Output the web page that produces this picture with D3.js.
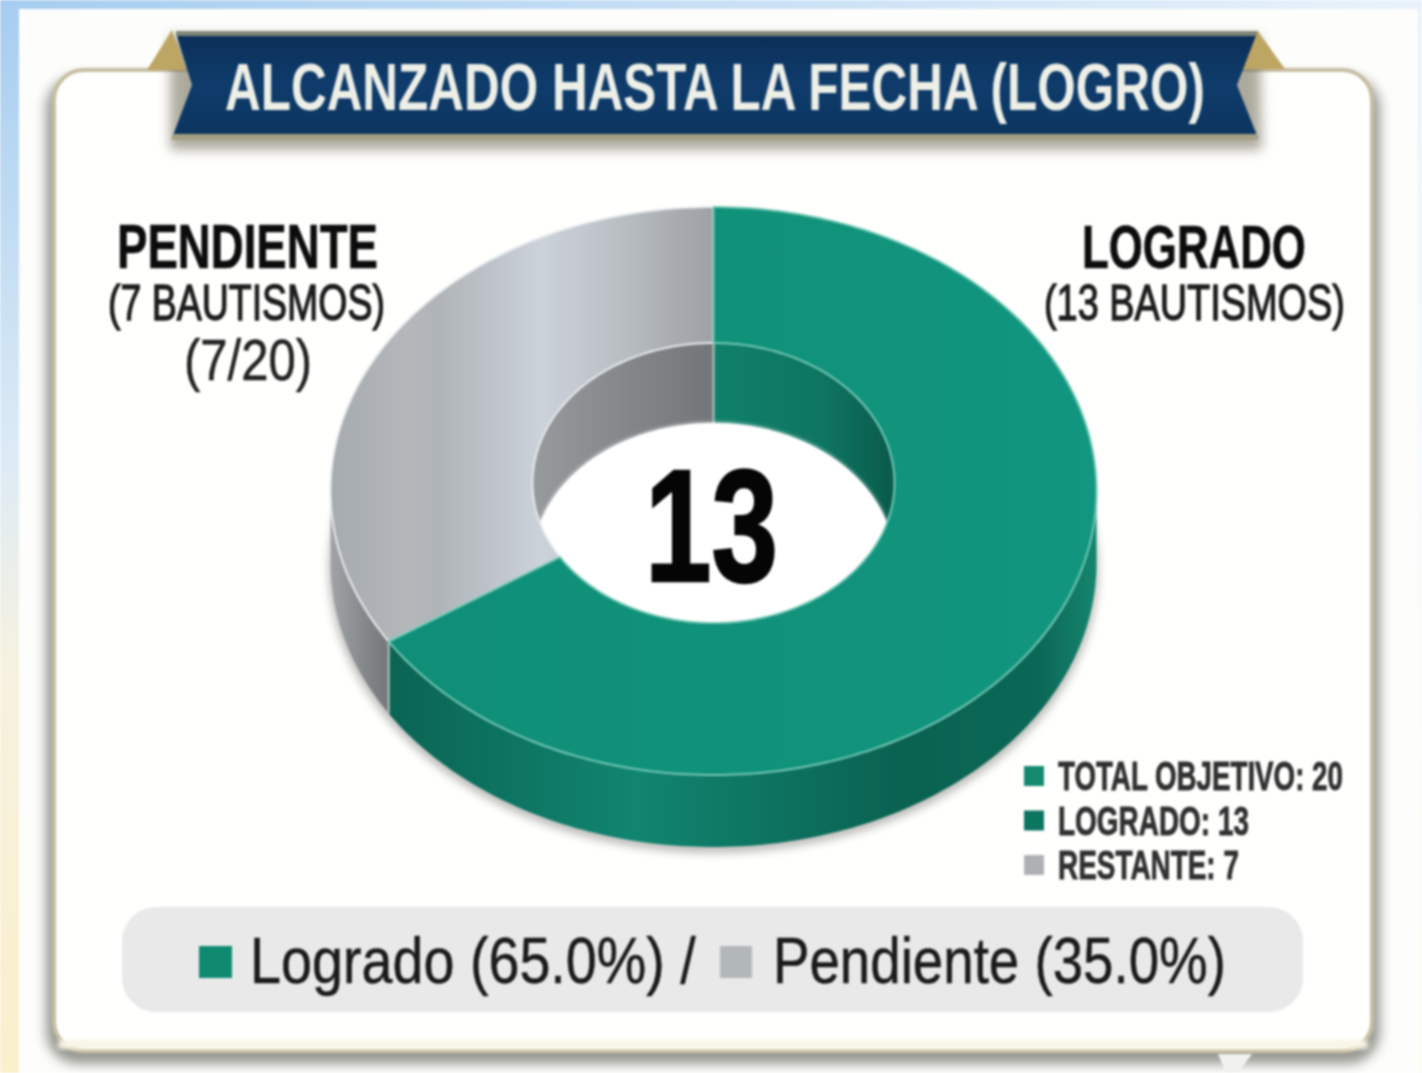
<!DOCTYPE html>
<html>
<head>
<meta charset="utf-8">
<script src="https://cdn.jsdelivr.net/npm/d3@7/dist/d3.min.js"></script>
<style>
  html, body { margin: 0; padding: 0; background: #fff; overflow: hidden; }
  svg { display: block; filter: blur(0.9px); }
  text { font-family: "Liberation Sans", Arial, sans-serif; }
</style>
</head>
<body>
<svg id="chart" width="1422" height="1073"></svg>
<script>
const titleText = 'ALCANZADO HASTA LA FECHA (LOGRO)';
const categories = ['Logrado', 'Pendiente'];
const values = [13, 7];
const total = d3.sum(values);
const centerLabel = String(values[0]);
const legendLabels = ['TOTAL OBJETIVO: ' + total, 'LOGRADO: ' + values[0], 'RESTANTE: ' + values[1]];
const legendColors = ['#13896f', '#0c7560', '#aeb1b3'];
const legendWidths = [285, 191, 181];

const TAU = Math.PI * 2;
const deg = d => d * Math.PI / 180;
const svg = d3.select('#chart');
const defs = svg.append('defs');

function gradient(id, stops, x1, x2, y1, y2) {
  const g = defs.append('linearGradient').attr('id', id)
    .attr('gradientUnits', 'userSpaceOnUse')
    .attr('x1', x1).attr('x2', x2).attr('y1', y1).attr('y2', y2);
  stops.forEach(s => g.append('stop').attr('offset', s[0]).attr('stop-color', s[1]).attr('stop-opacity', s[2] === undefined ? 1 : s[2]));
}
function blur(id, amount) {
  defs.append('filter').attr('id', id)
    .attr('x', '-20%').attr('y', '-20%').attr('width', '140%').attr('height', '140%')
    .append('feGaussianBlur').attr('stdDeviation', amount);
}
gradient('bgV', [[0, '#a6cdf0'], [0.42, '#dcebf6'], [0.62, '#f6f2e0'], [1, '#fbf0cc']], 0, 0, 0, 1073);
gradient('bgH', [[0, '#ffffff', 0], [1, '#ffffff', 0.75]], 0, 1422, 0, 0);
gradient('greenWall', [[0, '#0a6453'], [0.35, '#118570'], [0.72, '#0a6251'], [0.92, '#0b6856'], [1, '#15866f']], 388, 1097, 0, 0);
gradient('greyWall', [[0, '#a2a5a8'], [0.6, '#85888b'], [1, '#74777a']], 330, 388, 0, 0);
gradient('greyFace', [[0, '#a6abb0'], [0.12, '#aeb2b6'], [0.2, '#b4b8bb'], [0.28, '#b0b4b8'], [0.42, '#bdc3c9'], [0.55, '#cbd2da'], [0.66, '#c3c8cf'], [0.78, '#b7bcc1'], [0.9, '#a8acb0'], [1, '#9ea2a6']], 330, 713, 0, 0);
gradient('greenFace', [[0, '#0f8f78'], [0.6, '#11927b'], [1, '#129680']], 388, 1097, 0, 0);
gradient('greyInner', [[0, '#979a9d'], [1, '#737678']], 535, 713, 0, 0);
gradient('greenInner', [[0, '#10806a'], [0.6, '#0e7561'], [1, '#0a5a4b']], 713, 895, 0, 0);
gradient('navy', [[0, '#0b3058'], [0.5, '#0f3c6c'], [1, '#0c355f']], 0, 0, 36, 134);
blur('soft4', 4);
blur('soft7', 6);
blur('soft2', 2);

// page and panel behind the card
svg.append('rect').attr('width', 1422).attr('height', 1073).attr('fill', 'url(#bgV)');
svg.append('rect').attr('width', 1422).attr('height', 1073).attr('fill', 'url(#bgH)');
svg.append('rect').attr('x', 19).attr('y', 9).attr('width', 1399).attr('height', 1064).attr('fill', '#fdfdfb');

// card
svg.append('rect').attr('x', 46).attr('y', 76).attr('width', 1334).attr('height', 988).attr('rx', 32)
  .attr('fill', '#77776f').attr('opacity', 0.75).attr('filter', 'url(#soft7)');
svg.append('rect').attr('x', 54).attr('y', 70).attr('width', 1318).attr('height', 981).attr('rx', 30)
  .attr('fill', '#fffffd').attr('stroke', '#c8bea4').attr('stroke-width', 4);
svg.append('rect').attr('x', 58).attr('y', 1040).attr('width', 1310).attr('height', 9).attr('rx', 4)
  .attr('fill', '#f8f5e6').attr('filter', 'url(#soft2)');
svg.append('path').attr('d', 'M1218,1054 L1252,1054 L1238,1073 L1226,1073 Z').attr('fill', '#f1f1ef');

// ribbon
svg.append('path').attr('d', 'M170,36 L1260,36 L1262,150 L170,150 Z')
  .attr('fill', '#77725f').attr('opacity', 0.6).attr('filter', 'url(#soft7)');
svg.append('path').attr('d', 'M172,30 L147,70 L186,70 Z').attr('fill', '#bda563');
svg.append('path').attr('d', 'M1257,30 L1285,69 L1243,69 Z').attr('fill', '#bda563');
svg.append('path').attr('d', 'M176,33 L1257,33 L1237,85 L1258,138 L172,138 L192,85 Z')
  .attr('fill', 'url(#navy)');
svg.append('path').attr('d', 'M176,31 L1257,31 L1256,36 L177,36 Z').attr('fill', '#7f8577');
svg.append('path').attr('d', 'M173,134 L1257,134 L1258,140 L171,140 Z').attr('fill', '#a59f83');

// squeezes a real text into the width it has in the picture
function label(x, y, text, size, weight, fill, length, extra = 0) {
  const t = svg.append('text').text(text)
    .attr('font-size', size).attr('font-weight', weight).attr('fill', fill)
    .attr('stroke', fill).attr('stroke-width', extra);
  const k = length / t.node().getComputedTextLength();
  t.attr('transform', `translate(${x},${y}) scale(${k},1)`);
  return t;
}
label(225, 110, titleText, 66, 'bold', '#eef0e8', 980);

// donut geometry, the hole has its own ellipse because of the perspective
const outer = { cx: 713.5, cy: 491, rx: 383, ry: 284 };
const inner = { cx: 713.5, cy: 483, rx: 181, ry: 140 };
const outerDepth = 72, innerDepth = 80;

const slices = d3.pie().sort(null)(values);
// the seam sits a little further round on screen than the flat angle
const screenAngle = d3.scaleLinear()
  .domain([0, slices[0].endAngle, TAU])
  .range([0, deg(238), TAU]);

const pt = (e, a, dy = 0) => [e.cx + e.rx * Math.sin(a), e.cy - e.ry * Math.cos(a) + dy];
const line = d3.line();
function sweep(a0, a1) {
  const n = Math.max(2, Math.ceil(Math.abs(a1 - a0) / deg(1)));
  return d3.range(n + 1).map(i => a0 + (a1 - a0) * i / n);
}
function ringPath(a0, a1) {
  const pts = sweep(a0, a1).map(a => pt(outer, a)).concat(sweep(a1, a0).map(a => pt(inner, a)));
  return line(pts) + 'Z';
}
function wallPath(e, a0, a1, depth) {
  const pts = sweep(a0, a1).map(a => pt(e, a)).concat(sweep(a1, a0).map(a => pt(e, a, depth)));
  return line(pts) + 'Z';
}
const seam = screenAngle(slices[0].endAngle);

// soft shadow under the donut
svg.append('ellipse').attr('cx', outer.cx).attr('cy', outer.cy + outerDepth + 6)
  .attr('rx', outer.rx + 2).attr('ry', outer.ry).attr('fill', '#6e706c').attr('opacity', 0.45)
  .attr('filter', 'url(#soft4)');

// outer wall, front half only
svg.append('path').attr('d', wallPath(outer, deg(90), seam, outerDepth))
  .attr('fill', 'url(#greenWall)');
svg.append('path').attr('d', wallPath(outer, seam, deg(270), outerDepth))
  .attr('fill', 'url(#greyWall)');
svg.append('path').attr('d', line([pt(outer, seam), pt(outer, seam, outerDepth)]))
  .attr('stroke', '#b9c4c2').attr('stroke-width', 2).attr('fill', 'none');

// hole: back wall and the white seen through it
defs.append('clipPath').attr('id', 'holeClip').append('ellipse')
  .attr('cx', inner.cx).attr('cy', inner.cy).attr('rx', inner.rx).attr('ry', inner.ry);
const hole = svg.append('g').attr('clip-path', 'url(#holeClip)');
hole.append('ellipse').attr('cx', inner.cx).attr('cy', inner.cy).attr('rx', inner.rx).attr('ry', inner.ry)
  .attr('fill', '#ffffff');
hole.append('path').attr('d', wallPath(inner, deg(270), TAU, innerDepth)).attr('fill', 'url(#greyInner)');
hole.append('path').attr('d', wallPath(inner, 0, deg(90), innerDepth)).attr('fill', 'url(#greenInner)');
hole.append('path').attr('d', line([pt(inner, 0), pt(inner, 0, innerDepth)]))
  .attr('stroke', '#a9c9c2').attr('stroke-width', 2).attr('fill', 'none');
hole.append('ellipse').attr('cx', inner.cx).attr('cy', inner.cy + innerDepth).attr('rx', inner.rx).attr('ry', inner.ry)
  .attr('fill', '#ffffff').attr('filter', 'url(#soft2)');

// top faces
const faces = [
  { a0: seam, a1: TAU, fill: 'url(#greyFace)', stroke: '#e7e9ec' },
  { a0: 0, a1: seam, fill: 'url(#greenFace)', stroke: '#74c7b5' }
];
svg.selectAll('.face').data(faces).join('path').attr('class', 'face')
  .attr('d', d => ringPath(d.a0, d.a1))
  .attr('fill', d => d.fill)
  .attr('stroke', d => d.stroke).attr('stroke-width', 2).attr('stroke-linejoin', 'round');

// center number
label(645, 581, centerLabel, 160, 'bold', '#050505', 133, 2.5);

// side labels
label(117, 268, categories[1].toUpperCase(), 62, 'bold', '#0c0c0c', 261, 0.6);
label(108, 320, '(' + values[1] + ' BAUTISMOS)', 50, 'normal', '#1c1c1c', 277, 1.3);
label(184, 380, '(' + values[1] + '/' + total + ')', 58, 'normal', '#222222', 128, 0.5);
label(1082, 268, categories[0].toUpperCase(), 62, 'bold', '#0c0c0c', 224, 0.6);
label(1044, 320, '(' + values[0] + ' BAUTISMOS)', 50, 'normal', '#1c1c1c', 301, 1.3);

// small legend
const legendY = d3.scalePoint().domain(d3.range(legendLabels.length)).range([776, 865]);
legendLabels.forEach((t, i) => {
  svg.append('rect').attr('x', 1024).attr('y', legendY(i) - 10).attr('width', 20).attr('height', 20)
    .attr('fill', legendColors[i]);
  label(1058, legendY(i) + 14, t, 40, 'bold', '#303030', legendWidths[i], 0.8);
});

// percent bar
const pct = d3.format('.1%');
svg.append('rect').attr('x', 122).attr('y', 907).attr('width', 1181).attr('height', 105).attr('rx', 34)
  .attr('fill', '#e9e9e9');
svg.append('rect').attr('x', 199).attr('y', 946).attr('width', 33).attr('height', 32).attr('fill', '#0f8a71');
svg.append('rect').attr('x', 720).attr('y', 946).attr('width', 32).attr('height', 32).attr('fill', '#b2b7ba');
label(250, 983, categories[0] + ' (' + pct(values[0] / total) + ') /', 65, 'normal', '#1a1a1a', 446, 0.5);
label(773, 983, categories[1] + ' (' + pct(values[1] / total) + ')', 65, 'normal', '#1a1a1a', 453, 0.5);
</script>
</body>
</html>
